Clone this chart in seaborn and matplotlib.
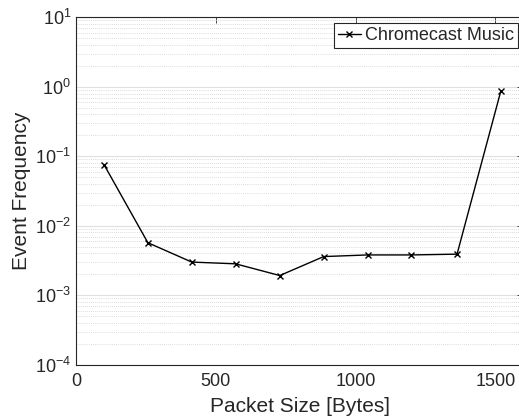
import matplotlib
matplotlib.use("Agg")
import matplotlib.pyplot as plt
import matplotlib.ticker as mticker
import pandas as pd
import seaborn as sns

# --------------------------
# Data
# --------------------------
packet_size = [100, 257, 414, 571, 729, 886, 1043, 1200, 1363, 1520]
event_freq = [0.076, 0.0057, 0.0030, 0.00283, 0.00192, 0.0036, 0.0038, 0.0038, 0.0039, 0.88]
series_name = "Chromecast Music"

df = pd.DataFrame({"size": packet_size, "freq": event_freq, "series": series_name})

# --------------------------
# Style
# --------------------------
sns.set_style("white")
plt.rcParams["font.family"] = ["Liberation Sans", "DejaVu Sans"]
plt.rcParams["mathtext.fontset"] = "custom"
plt.rcParams["mathtext.rm"] = "Liberation Sans"

W, H = 519, 420
fig = plt.figure(figsize=(W / 100, H / 100), dpi=100)
# axes run a little past the right edge of the figure, as in the reference
ax = fig.add_axes([76 / W, 1 - 364.7 / H, (523.3 - 76) / W, (364.7 - 17.3) / H])

sns.lineplot(data=df, x="size", y="freq", hue="series", palette=["black"],
             marker="x", markersize=4, markeredgewidth=1.0, linewidth=1.0,
             markeredgecolor="black", ax=ax)

ax.set_yscale("log")
ax.set_xlim(0, 1600)
ax.set_ylim(1e-4, 1e1)
ax.set_xticks([0, 500, 1000, 1500])
ax.yaxis.set_major_locator(mticker.LogLocator(base=10, numticks=10))
ax.yaxis.set_minor_locator(mticker.LogLocator(base=10, subs=range(2, 10), numticks=20))
ax.yaxis.set_minor_formatter(mticker.NullFormatter())

ax.grid(True, which="major", axis="y", color="#e0e0e0", linestyle="-", linewidth=0.8)
ax.grid(True, which="minor", axis="y", color="#cfcfcf", linestyle=(0, (1, 1.5)), linewidth=0.6)
ax.set_axisbelow(True)

for s in ax.spines.values():
    s.set_color("#262626")
    s.set_linewidth(0.8)

ax.tick_params(which="both", direction="in", top=True, right=True, colors="#262626",
               labelsize=13, labelcolor="#262626")
ax.tick_params(which="major", length=4, width=0.6)
ax.tick_params(which="minor", length=2, width=0.5)
ax.tick_params(axis="x", pad=6)

ax.set_xlabel("Packet Size [Bytes]", fontsize=15, color="#262626", labelpad=5)
ax.set_ylabel("Event Frequency", fontsize=15, color="#262626", labelpad=3)

leg = ax.legend(loc="upper right", bbox_to_anchor=(517.7 / W, 1 - 23.3 / H),
                bbox_transform=fig.transFigure, fontsize=13, frameon=True,
                fancybox=False, handlelength=1.3, handletextpad=0.2,
                borderpad=0.22, borderaxespad=0, framealpha=1)
leg.get_frame().set_edgecolor("#262626")
leg.get_frame().set_linewidth(0.8)

fig.savefig("out.png", dpi=100)
